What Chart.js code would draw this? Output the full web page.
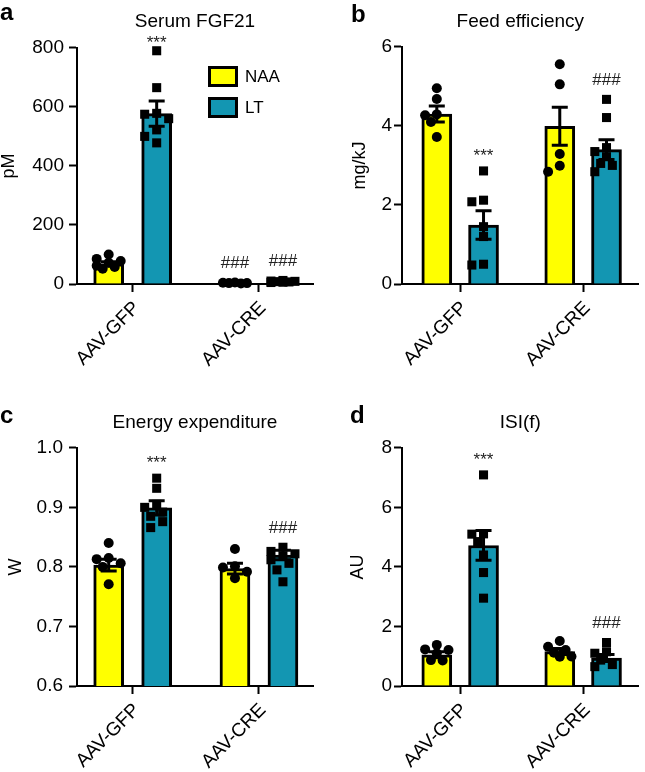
<!DOCTYPE html>
<html>
<head>
<meta charset="utf-8">
<script src="https://cdn.jsdelivr.net/npm/chart.js@4/dist/chart.umd.min.js"></script>
<style>
  body { margin: 0; background: #fff; }
  #fig { position: relative; width: 645px; height: 772px; overflow: hidden; }
  #fig canvas { position: absolute; }
  .tag { position: absolute; font: bold 24px/24px "Liberation Sans", Arial, sans-serif; color: #000; }
</style>
</head>
<body>
<div id="fig">
  <canvas id="chartA" width="322" height="386" style="left:0;top:0"></canvas>
  <canvas id="chartB" width="323" height="386" style="left:322px;top:0"></canvas>
  <canvas id="chartC" width="322" height="386" style="left:0;top:386px"></canvas>
  <canvas id="chartD" width="323" height="386" style="left:322px;top:386px"></canvas>
  <div class="tag" style="left:0;top:0">a</div>
  <div class="tag" style="left:351px;top:2px">b</div>
  <div class="tag" style="left:0;top:403px">c</div>
  <div class="tag" style="left:350px;top:403px">d</div>
</div>
<script>
const groups = ["AAV-GFP", "AAV-CRE"];
const seriesNames = ["NAA", "LT"];

// a - Serum FGF21 (pM)
const fgfMeanNAA = [68, 4];
const fgfMeanLT = [577, 8];
const fgfSemNAA = [7, 1];
const fgfSemLT = [43, 1.5];
const fgfPtsNAA = [[100, 85, 78, 72, 62, 58, 52], [5, 4, 3, 3, 2]];
const fgfPtsLT = [[790, 665, 578, 575, 560, 522, 500, 478], [12, 10, 9, 8, 7, 6, 5]];
const fgfTicks = [0, 200, 400, 600, 800];
const fgfSigNAA = ["", "###"];
const fgfSigLT = ["***", "###"];

// b - Feed efficiency (mg/kJ)
const feMeanNAA = [4.30, 3.99];
const feMeanLT = [1.49, 3.40];
const feSemNAA = [0.2, 0.48];
const feSemLT = [0.36, 0.25];
const fePtsNAA = [[4.95, 4.68, 4.29, 4.27, 4.10, 3.72], [5.56, 5.05, 3.29, 2.99, 2.84]];
const fePtsLT = [[2.86, 2.12, 2.08, 1.45, 1.2, 0.5, 0.48], [4.67, 4.21, 3.45, 3.35, 3.22, 3.05, 3.0, 2.84]];
const feTicks = [0, 2, 4, 6];
const feSigNAA = ["", ""];
const feSigLT = ["***", "###"];

// c - Energy expenditure (W)
const eeMeanNAA = [0.803, 0.797];
const eeMeanLT = [0.899, 0.820];
const eeSemNAA = [0.01, 0.009];
const eeSemLT = [0.012, 0.008];
const eePtsNAA = [[0.840, 0.815, 0.813, 0.806, 0.800, 0.771], [0.830, 0.801, 0.799, 0.792, 0.781]];
const eePtsLT = [[0.949, 0.932, 0.905, 0.900, 0.892, 0.885, 0.876, 0.866], [0.833, 0.826, 0.822, 0.818, 0.812, 0.806, 0.795, 0.775]];
const eeTicks = [0.6, 0.7, 0.8, 0.9, 1.0];
const eeSigNAA = ["", ""];
const eeSigLT = ["***", "###"];

// d - ISI(f) (AU)
const isiMeanNAA = [1.05, 1.16];
const isiMeanLT = [4.72, 0.94];
const isiSemNAA = [0.1, 0.1];
const isiSemLT = [0.5, 0.12];
const isiPtsNAA = [[1.38, 1.23, 1.21, 1.1, 0.87, 0.86], [1.51, 1.32, 1.21, 1.12, 0.99, 0.98]];
const isiPtsLT = [[7.09, 5.11, 5.10, 4.85, 4.40, 3.81, 2.95], [1.46, 1.15, 1.1, 0.87, 0.72, 0.65]];
const isiTicks = [0, 2, 4, 6, 8];
const isiSigNAA = ["", ""];
const isiSigLT = ["***", "###"];

const YELLOW = '#ffff00';
const TEAL = '#1396b2';
const FONT = '"Liberation Sans", Arial, sans-serif';
const GROUP_PX = 126.3;      // pixels between the two group ticks
const SHIFT = 24 / GROUP_PX; // bar centre offset from group tick

// spread the dots of one group sideways where they would overlap
function swarm(values, center, pxY) {
  const step = 6, near = 9, cands = [0, -1, 1, -2, 2];
  const placed = [];
  [...values].sort((p, q) => q - p).forEach(v => {
    let best = 0, bestD = -1;
    for (const k of cands) {
      const d = Math.min(Infinity, ...placed.map(p => Math.hypot((p.k - k) * step, (p.v - v) * pxY)));
      if (d >= near) { best = k; break; }
      if (d > bestD) { bestD = d; best = k; }
    }
    placed.push({ v, k: best });
  });
  return placed.map(p => ({ x: center + p.k * step / GROUP_PX, y: p.v }));
}

const errorBars = {
  id: 'errorBars',
  afterDatasetDraw(chart, args) {
    const ds = chart.data.datasets[args.index];
    if (!ds.sem) return;
    const { ctx, scales: { x, y } } = chart;
    ctx.save();
    ctx.strokeStyle = '#000';
    ctx.lineWidth = 3;
    ds.data.forEach((d, i) => {
      const px = x.getPixelForValue(d.x);
      const top = y.getPixelForValue(d.y + ds.sem[i]);
      const bot = y.getPixelForValue(Math.max(d.y - ds.sem[i], y.min));
      ctx.beginPath();
      ctx.moveTo(px, top); ctx.lineTo(px, bot);
      ctx.moveTo(px - 8, top); ctx.lineTo(px + 8, top);
      ctx.moveTo(px - 8, bot); ctx.lineTo(px + 8, bot);
      ctx.stroke();
    });
    ctx.restore();
  }
};

const sigMarks = {
  id: 'sigMarks',
  afterDatasetsDraw(chart) {
    const { ctx, chartArea, scales: { x, y } } = chart;
    ctx.save();
    ctx.fillStyle = '#222';
    ctx.font = '17px ' + FONT;
    ctx.textAlign = 'center';
    ctx.textBaseline = 'middle';
    chart.data.datasets.forEach(ds => {
      if (!ds.sig) return;
      ds.sig.forEach((s, i) => {
        if (!s) return;
        const topVal = Math.max(ds.data[i].y + ds.sem[i], ...ds.pts[i]);
        let cy = Math.max(y.getPixelForValue(topVal) - 19, chartArea.top - 8);
        if (s === '***') cy += 4;
        ctx.fillText(s, x.getPixelForValue(ds.data[i].x), cy);
      });
    });
    ctx.restore();
  }
};

const boxLegend = {
  id: 'boxLegend',
  afterDraw(chart, args, opts) {
    if (!opts.show) return;
    const { ctx } = chart;
    ctx.save();
    ctx.font = '17px ' + FONT;
    ctx.textBaseline = 'middle';
    chart.data.datasets.filter(ds => ds.sem).forEach((ds, i) => {
      const top = opts.top + i * opts.gap;
      ctx.fillStyle = ds.backgroundColor;
      ctx.fillRect(opts.left, top, 30, 21);
      ctx.strokeStyle = '#000';
      ctx.lineWidth = 3;
      ctx.strokeRect(opts.left + 1.5, top + 1.5, 27, 18);
      ctx.fillStyle = '#000';
      ctx.fillText(ds.label, opts.left + 37, top + 11);
    });
    ctx.restore();
  }
};

function makePanel(id, p) {
  const pxY = p.plotH / (p.yTicks[p.yTicks.length - 1] - p.yTicks[0]);
  const barSet = (name, mean, sem, pts, sig, shift, color) => ({
    type: 'bar', label: name,
    data: groups.map((g, i) => ({ x: i + shift, y: mean[i] })),
    sem, pts, sig,
    backgroundColor: color, borderColor: '#000', borderWidth: 3,
    barThickness: 30, grouped: false, order: 2
  });
  const dotSet = (pts, shift, style, r) => ({
    type: 'scatter',
    data: pts.flatMap((vals, i) => swarm(vals, i + shift, pxY)),
    pointStyle: style, pointRadius: r, pointBorderWidth: 0,
    backgroundColor: '#000', borderColor: '#000', clip: false, order: 1
  });

  new Chart(document.getElementById(id), {
    type: 'bar',
    data: {
      datasets: [
        barSet(seriesNames[0], p.meanNAA, p.semNAA, p.ptsNAA, p.sigNAA, -SHIFT, YELLOW),
        barSet(seriesNames[1], p.meanLT, p.semLT, p.ptsLT, p.sigLT, SHIFT, TEAL),
        dotSet(p.ptsNAA, -SHIFT, 'circle', 5),
        dotSet(p.ptsLT, SHIFT, 'rect', 6.4)
      ]
    },
    options: {
      responsive: false,
      animation: false,
      devicePixelRatio: 1,
      events: [],
      layout: { padding: { top: 0, left: 0, bottom: 0, right: p.padRight } },
      plugins: {
        legend: { display: false },
        tooltip: { enabled: false },
        title: {
          display: true, text: p.title, fullSize: false, color: '#000',
          font: { family: FONT, size: 19, weight: 'normal' },
          padding: { top: p.titleTop, bottom: p.titleBottom }
        },
        boxLegend: p.legend || { show: false }
      },
      scales: {
        x: {
          type: 'linear', min: p.xMin, max: p.xMax, offset: false,
          afterBuildTicks: s => { s.ticks = groups.map((g, i) => ({ value: i })); },
          afterFit: s => { s.height = p.xHeight; s.paddingLeft = 0; s.paddingRight = 0; },
          ticks: {
            autoSkip: false, minRotation: 45, maxRotation: 45, color: '#000', padding: 5,
            labelOffset: 4,
            font: { family: FONT, size: 19 },
            callback: v => groups[v]
          },
          grid: { display: true, offset: false, drawOnChartArea: false, drawTicks: true, tickLength: 8, tickWidth: 2, tickColor: '#000' },
          border: { display: true, color: '#000', width: 2 }
        },
        y: {
          type: 'linear', min: p.yTicks[0], max: p.yTicks[p.yTicks.length - 1], beginAtZero: false,
          afterBuildTicks: s => { s.ticks = p.yTicks.map(v => ({ value: v })); },
          afterFit: s => { s.width = p.yWidth; s.paddingTop = 0; s.paddingBottom = 0; },
          ticks: {
            color: '#000', padding: p.yPad,
            font: { family: FONT, size: 19 },
            callback: v => p.tickFmt ? v.toFixed(1) : String(v)
          },
          grid: { display: true, drawOnChartArea: false, drawTicks: true, tickLength: 8, tickWidth: 2, tickColor: '#000' },
          border: { display: true, color: '#000', width: 2 },
          title: {
            display: true, text: p.yLabel, color: '#000',
            font: { family: FONT, size: 18, lineHeight: 1 },
            padding: { top: p.yTitlePad, bottom: 0 }
          }
        }
      }
    },
    plugins: [errorBars, sigMarks, boxLegend]
  });
}

makePanel('chartA', {
  title: 'Serum FGF21', yLabel: 'pM', yTicks: fgfTicks,
  meanNAA: fgfMeanNAA, meanLT: fgfMeanLT, semNAA: fgfSemNAA, semLT: fgfSemLT,
  ptsNAA: fgfPtsNAA, ptsLT: fgfPtsLT, sigNAA: fgfSigNAA, sigLT: fgfSigLT,
  plotH: 236, yWidth: 77, padRight: 9, xHeight: 102, titleTop: 10, titleBottom: 15,
  xMin: -0.441, xMax: 1.428, yPad: 5, yTitlePad: 0,
  legend: { show: true, left: 208, top: 66, gap: 31 }
});

makePanel('chartB', {
  title: 'Feed efficiency', yLabel: 'mg/kJ', yTicks: feTicks,
  meanNAA: feMeanNAA, meanLT: feMeanLT, semNAA: feSemNAA, semLT: feSemLT,
  ptsNAA: fePtsNAA, ptsLT: fePtsLT, sigNAA: feSigNAA, sigLT: feSigLT,
  plotH: 237, yWidth: 80, padRight: 0, xHeight: 102, titleTop: 10, titleBottom: 14,
  xMin: -0.473, xMax: 1.451, yPad: 2, yTitlePad: 28.7
});

makePanel('chartC', {
  title: 'Energy expenditure', yLabel: 'W', yTicks: eeTicks, tickFmt: true,
  meanNAA: eeMeanNAA, meanLT: eeMeanLT, semNAA: eeSemNAA, semLT: eeSemLT,
  ptsNAA: eePtsNAA, ptsLT: eePtsLT, sigNAA: eeSigNAA, sigLT: eeSigLT,
  plotH: 238, yWidth: 77, padRight: 9, xHeight: 86, titleTop: 25, titleBottom: 14,
  xMin: -0.441, xMax: 1.428, yPad: 6, yTitlePad: 7.5
});

makePanel('chartD', {
  title: 'ISI(f)', yLabel: 'AU', yTicks: isiTicks,
  meanNAA: isiMeanNAA, meanLT: isiMeanLT, semNAA: isiSemNAA, semLT: isiSemLT,
  ptsNAA: isiPtsNAA, ptsLT: isiPtsLT, sigNAA: isiSigNAA, sigLT: isiSigLT,
  plotH: 238, yWidth: 80, padRight: 0, xHeight: 86, titleTop: 25, titleBottom: 14,
  xMin: -0.473, xMax: 1.451, yPad: 2, yTitlePad: 27
});
</script>
</body>
</html>
